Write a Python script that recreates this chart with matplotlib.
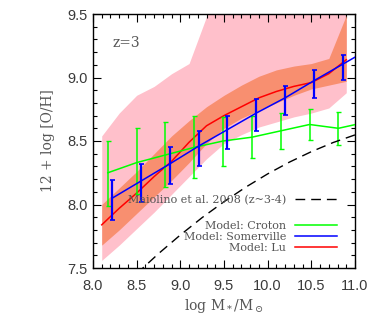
import matplotlib
matplotlib.use("Agg")
import matplotlib.pyplot as plt
from matplotlib.lines import Line2D
from matplotlib.ticker import MultipleLocator

# ---------------- data ----------------
# Lu model: median and bands
lu_x = [8.1, 8.3, 8.5, 8.7, 8.9, 9.1, 9.3, 9.5, 9.7, 9.9, 10.1, 10.3, 10.5, 10.7, 10.9]
lu_med = [7.84, 7.97, 8.09, 8.22, 8.34, 8.49, 8.62, 8.70, 8.77, 8.84, 8.89, 8.93, 8.96, 9.03, 9.14]
lu_in_lo = [7.68, 7.80, 7.93, 8.06, 8.19, 8.33, 8.48, 8.60, 8.68, 8.74, 8.80, 8.86, 8.91, 8.94, 8.97]
lu_in_hi = [8.00, 8.13, 8.26, 8.40, 8.54, 8.66, 8.77, 8.86, 8.94, 9.01, 9.06, 9.09, 9.11, 9.15, 9.49]
lu_out_lo = [7.56, 7.68, 7.81, 7.94, 8.08, 8.22, 8.36, 8.48, 8.55, 8.61, 8.65, 8.69, 8.72, 8.76, 8.88]
lu_out_hi = [8.54, 8.72, 8.86, 8.93, 9.03, 9.11, 9.48, 9.90, 9.90, 9.90, 9.90, 9.90, 9.90, 9.90, 9.90]

# Croton model
cr_x = [8.17, 8.50, 8.83, 9.16, 9.49, 9.82, 10.15, 10.48, 10.81, 11.14]
cr_y = [8.25, 8.33, 8.39, 8.45, 8.50, 8.53, 8.58, 8.63, 8.60, 8.65]
cr_hi = [8.50, 8.60, 8.65, 8.70, 8.69, 8.70, 8.72, 8.75, 8.73, 8.77]
cr_lo = [7.99, 8.08, 8.14, 8.21, 8.30, 8.37, 8.44, 8.505, 8.47, 8.53]

# Somerville model
so_x = [8.22, 8.55, 8.88, 9.21, 9.54, 9.87, 10.20, 10.53, 10.86, 11.19]
so_y = [8.05, 8.185, 8.32, 8.46, 8.59, 8.72, 8.84, 8.975, 9.105, 9.235]
so_hi = [8.19, 8.32, 8.45, 8.58, 8.70, 8.83, 8.93, 9.06, 9.18, 9.31]
so_lo = [7.88, 8.02, 8.16, 8.30, 8.44, 8.58, 8.705, 8.835, 8.98, 9.11]

# Maiolino et al. 2008 (z~3-4)
ma_x = [8.5, 8.75, 9.0, 9.25, 9.5, 9.75, 10.0, 10.25, 10.5, 10.75, 11.0]
ma_y = [7.455, 7.613, 7.76, 7.897, 8.022, 8.137, 8.241, 8.334, 8.416, 8.488, 8.548]

xticks = [8.0, 8.5, 9.0, 9.5, 10.0, 10.5, 11.0]
yticks = [7.5, 8.0, 8.5, 9.0, 9.5]

# ---------------- style ----------------
plt.rcParams['mathtext.fontset'] = 'dejavuserif'
txt_color = '#555555'
serif = 'DejaVu Serif'

fig = plt.figure(figsize=(3.74, 3.20), dpi=100)
ax = fig.add_axes([0.24866, 0.1625, 0.70053, 0.79375])

pink = '#FFC0CB'
salmon = '#F88F70'
ax.fill_between(lu_x, lu_out_lo, lu_out_hi, color=pink, lw=0, zorder=1)
ax.fill_between(lu_x, lu_in_lo, lu_in_hi, color=salmon, lw=0, zorder=2)
ax.plot(lu_x, lu_med, color='#FF0000', lw=1.1, zorder=3)

cr_err = [[y - l for y, l in zip(cr_y, cr_lo)], [h - y for y, h in zip(cr_y, cr_hi)]]
ax.errorbar(cr_x, cr_y, yerr=cr_err, color='#00FF00', lw=1.1, elinewidth=1.1,
            capsize=1.8, capthick=1.0, zorder=4)
so_err = [[y - l for y, l in zip(so_y, so_lo)], [h - y for y, h in zip(so_y, so_hi)]]
ax.errorbar(so_x, so_y, yerr=so_err, color='#0000FF', lw=1.1, elinewidth=1.6,
            capsize=1.8, capthick=1.2, zorder=5)

ax.plot(ma_x, ma_y, color='black', lw=1.0, dashes=(7, 4.3), zorder=6)

ax.set_xlim(8.0, 11.0)
ax.set_ylim(7.5, 9.5)
ax.set_xticks(xticks)
ax.set_yticks(yticks)
ax.set_xticklabels([f'{v:.1f}' for v in xticks])
ax.set_yticklabels([f'{v:.1f}' for v in yticks])
ax.xaxis.set_minor_locator(MultipleLocator(0.1))
ax.yaxis.set_minor_locator(MultipleLocator(0.1))
ax.tick_params(which='both', direction='in', top=True, right=True, color='black')
ax.tick_params(which='major', length=6, width=0.8)
ax.tick_params(which='minor', length=3, width=0.8)
ax.tick_params(axis='x', which='major', pad=8, labelsize=10.5, labelcolor='#3a3a3a')
ax.tick_params(axis='y', which='major', pad=4, labelsize=10.5, labelcolor='#3a3a3a')
for lab in ax.get_xticklabels() + ax.get_yticklabels():
    lab.set_fontfamily('Liberation Sans')
for s in ax.spines.values():
    s.set_linewidth(1.0)

ax.set_xlabel(r'log M$_*$/M$_\odot$', family=serif, fontsize=10, color=txt_color, labelpad=3)
ax.set_ylabel('12 + log [O/H]', family=serif, fontsize=10, color=txt_color, labelpad=9)

ax.text(0.073, 0.886, 'z=3', transform=ax.transAxes, family=serif, fontsize=10,
        color=txt_color, ha='left', va='center')

# legends
h1 = [Line2D([], [], color='black', lw=1.0, dashes=(7, 4.3))]
leg1 = ax.legend(h1, ['Maiolino et al. 2008 (z~3-4)'], loc='center right',
                 bbox_to_anchor=(0.9325, 0.268), frameon=False, markerfirst=False,
                 prop={'family': serif, 'size': 8}, handlelength=3.8, handletextpad=0.8,
                 borderpad=0, borderaxespad=0, labelcolor=txt_color)
leg1.set_zorder(10)
ax.add_artist(leg1)
h2 = [Line2D([], [], color='#00FF00', lw=1.1),
      Line2D([], [], color='#0000FF', lw=1.1),
      Line2D([], [], color='#FF0000', lw=1.1)]
leg2 = ax.legend(h2, ['Model: Croton', 'Model: Somerville', 'Model: Lu'], loc='center right',
                 bbox_to_anchor=(0.9325, 0.122), frameon=False, markerfirst=False,
                 prop={'family': serif, 'size': 8}, handlelength=3.8, handletextpad=0.8,
                 borderpad=0, borderaxespad=0, labelspacing=0.12, labelcolor=txt_color)
leg2.set_zorder(10)

fig.savefig('out.png', dpi=100)
